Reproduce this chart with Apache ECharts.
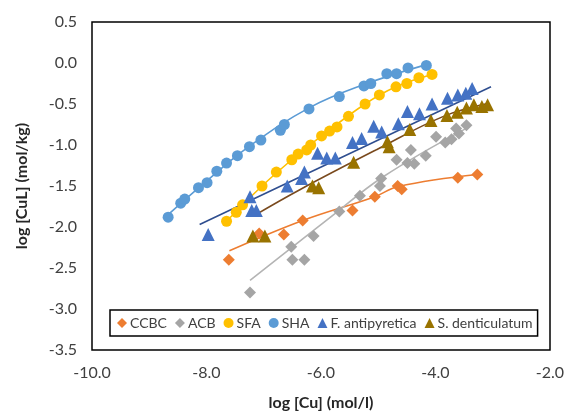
<!DOCTYPE html>
<html>
<head>
<meta charset="utf-8">
<script src="https://cdn.jsdelivr.net/npm/echarts@6/dist/echarts.min.js"></script>
<style>
  html, body { margin: 0; padding: 0; background: #fff; }
  #chart { width: 569px; height: 419px; }
</style>
</head>
<body>
<div id="chart"></div>
<script>
// Copper binding isotherms: log [CuL] against log [Cu] for six sorbents.
const seriesNames = ['CCBC', 'ACB', 'SFA', 'SHA', 'F. antipyretica', 'S. denticulatum'];

const ccbcX = [-7.61, -7.08, -6.65, -6.32, -5.45, -5.06, -4.66, -4.59, -3.61, -3.27];
const ccbcY = [-2.40, -2.08, -2.09, -1.92, -1.80, -1.63, -1.50, -1.54, -1.40, -1.36];

const acbX = [-7.24, -6.52, -6.50, -6.29, -6.13, -5.68, -5.32, -4.97, -4.95, -4.68,
              -4.49, -4.43, -4.37, -4.17, -3.99, -3.83, -3.72, -3.59, -3.64, -3.46];
const acbY = [-2.80, -2.24, -2.40, -2.40, -2.11, -1.81, -1.62, -1.50, -1.41, -1.18,
              -1.22, -1.06, -1.23, -1.13, -0.90, -0.97, -0.93, -0.86, -0.80, -0.76];

const sfaX = [-7.65, -7.48, -7.37, -7.03, -6.78, -6.51, -6.40, -6.25, -6.18, -5.99,
              -5.85, -5.72, -5.52, -5.23, -4.98, -4.69, -4.50, -4.29, -4.06];
const sfaY = [-1.93, -1.82, -1.73, -1.50, -1.33, -1.18, -1.11, -1.06, -1.00, -0.89,
              -0.83, -0.78, -0.65, -0.50, -0.39, -0.29, -0.25, -0.18, -0.14];

const shaX = [-8.67, -8.45, -8.38, -8.14, -7.99, -7.82, -7.65, -7.46, -7.25, -7.05,
              -6.71, -6.64, -6.21, -5.68, -5.25, -5.13, -4.85, -4.68, -4.48, -4.16];
const shaY = [-1.88, -1.71, -1.66, -1.52, -1.46, -1.32, -1.22, -1.13, -1.02, -0.94,
              -0.82, -0.75, -0.56, -0.41, -0.28, -0.25, -0.13, -0.13, -0.06, -0.03];

const fantX = [-7.97, -7.24, -7.21, -7.13, -6.59, -6.34, -6.29, -6.06, -5.90, -5.75, -5.45,
               -5.29, -5.08, -4.94, -4.65, -4.49, -4.28, -4.06, -3.79, -3.61, -3.47, -3.36];
const fantY = [-2.09, -1.63, -1.80, -1.80, -1.50, -1.41, -1.33, -1.10, -1.16, -1.16, -0.97,
               -0.92, -0.77, -0.84, -0.74, -0.59, -0.62, -0.50, -0.43, -0.39, -0.37, -0.31];

const sdenX = [-7.19, -6.98, -6.15, -6.04, -5.43, -4.84, -4.81, -4.45, -4.08,
               -3.80, -3.62, -3.46, -3.33, -3.19, -3.09];
const sdenY = [-2.11, -2.11, -1.50, -1.52, -1.21, -0.96, -1.02, -0.81, -0.70,
               -0.64, -0.60, -0.55, -0.51, -0.53, -0.51];

// Trend lines: nodes (log [Cu], log [CuL]) along each fitted curve
const ccbcTrendX = [-7.60, -6.32, -5.06, -4.65, -3.27];
const ccbcTrendY = [-2.29, -1.92, -1.63, -1.505, -1.36];

const acbTrendX = [-7.24, -5.85, -4.92, -3.47];
const acbTrendY = [-2.65, -1.89, -1.39, -0.80];

const sfaTrendX = [-7.65, -7.03, -6.51, -5.99, -5.23, -4.69, -4.06];
const sfaTrendY = [-1.93, -1.50, -1.18, -0.89, -0.50, -0.29, -0.14];

const shaTrendX = [-8.67, -7.99, -7.26, -6.20, -5.25, -4.16];
const shaTrendY = [-1.85, -1.435, -1.02, -0.544, -0.263, -0.02];

const fantTrendX = [-8.12, -5.58, -3.03];
const fantTrendY = [-1.97, -1.13, -0.29];

const sdenTrendX = [-7.19, -6.37, -5.03, -3.87, -3.09];
const sdenTrendY = [-1.87, -1.545, -1.057, -0.654, -0.495];

const xTicks = { min: -10, max: -2, step: 2 };
const yTicks = { min: -3.5, max: 0.5, step: 0.5 };

const zip = (xs, ys) => xs.map((x, i) => [x, ys[i]]);

const groups = [
  { name: seriesNames[0], x: ccbcX, y: ccbcY, tx: ccbcTrendX, ty: ccbcTrendY, symbol: 'diamond', size: 12, color: '#ED7D31', line: '#ED7D31' },
  { name: seriesNames[1], x: acbX, y: acbY, tx: acbTrendX, ty: acbTrendY, symbol: 'diamond', size: 12, color: '#A5A5A5', line: '#B4B4B4' },
  { name: seriesNames[2], x: sfaX, y: sfaY, tx: sfaTrendX, ty: sfaTrendY, symbol: 'circle', size: 11, color: '#FFC000', line: '#FFC000' },
  { name: seriesNames[3], x: shaX, y: shaY, tx: shaTrendX, ty: shaTrendY, symbol: 'circle', size: 11, color: '#5B9BD5', line: '#5B9BD5' },
  { name: seriesNames[4], x: fantX, y: fantY, tx: fantTrendX, ty: fantTrendY, symbol: 'triangle', size: 13, color: '#4472C4', line: '#2F4E8F' },
  { name: seriesNames[5], x: sdenX, y: sdenY, tx: sdenTrendX, ty: sdenTrendY, symbol: 'triangle', size: 13, color: '#997300', line: '#7A4A1E' }
];

const series = [];
groups.forEach(g => {
  series.push({
    name: g.name + ' fit', type: 'line', showSymbol: false, symbol: 'none', smooth: 0.4,
    lineStyle: { color: g.line, width: 1.6 }, data: zip(g.tx, g.ty), z: 2,
    emphasis: { disabled: true }
  });
});
groups.forEach(g => {
  series.push({
    name: g.name, type: 'scatter', symbol: g.symbol, symbolSize: g.size,
    itemStyle: { color: g.color, opacity: 1 }, data: zip(g.x, g.y), z: 3,
    emphasis: { disabled: true }
  });
});

const font = 'Lato, "Open Sans", sans-serif';
const chart = echarts.init(document.getElementById('chart'), null, { renderer: 'canvas' });
chart.setOption({
  animation: false,
  backgroundColor: '#fff',
  grid: { left: 92, top: 22, right: 19, bottom: 69, show: true, borderColor: '#000', borderWidth: 1.5, backgroundColor: 'transparent' },
  xAxis: {
    type: 'value', min: xTicks.min, max: xTicks.max, interval: xTicks.step,
    axisLine: { show: false }, axisTick: { show: false }, splitLine: { show: false },
    axisLabel: { color: '#404040', fontFamily: font, fontSize: 16, margin: 15, formatter: v => v.toFixed(1) },
    name: 'log [Cu] (mol/l)', nameLocation: 'middle', nameGap: 45,
    nameTextStyle: { color: '#262626', fontFamily: font, fontSize: 16, fontWeight: 'bold' }
  },
  yAxis: {
    type: 'value', min: yTicks.min, max: yTicks.max, interval: yTicks.step,
    axisLine: { show: false }, axisTick: { show: false }, splitLine: { show: false },
    axisLabel: { color: '#404040', fontFamily: font, fontSize: 16, margin: 15, formatter: v => v.toFixed(1) },
    name: 'log [CuL] (mol/kg)', nameLocation: 'middle', nameGap: 62,
    nameTextStyle: { color: '#262626', fontFamily: font, fontSize: 16, fontWeight: 'bold' }
  },
  legend: {
    data: [
      { name: seriesNames[0], icon: 'diamond' },
      { name: seriesNames[1], icon: 'diamond' },
      { name: seriesNames[2], icon: 'circle' },
      { name: seriesNames[3], icon: 'circle' },
      { name: seriesNames[4], icon: 'triangle' },
      { name: seriesNames[5], icon: 'triangle' }
    ],
    left: 110, top: 310, itemWidth: 10, itemHeight: 10, itemGap: 8,
    padding: [6, 5, 6, 7],
    borderColor: '#000', borderWidth: 1.5, borderRadius: 0, backgroundColor: '#fff',
    textStyle: { color: '#404040', fontFamily: font, fontSize: 14, padding: [0, 0, 0, -2] },
    selectedMode: false
  },
  series: series
});
</script>
</body>
</html>
